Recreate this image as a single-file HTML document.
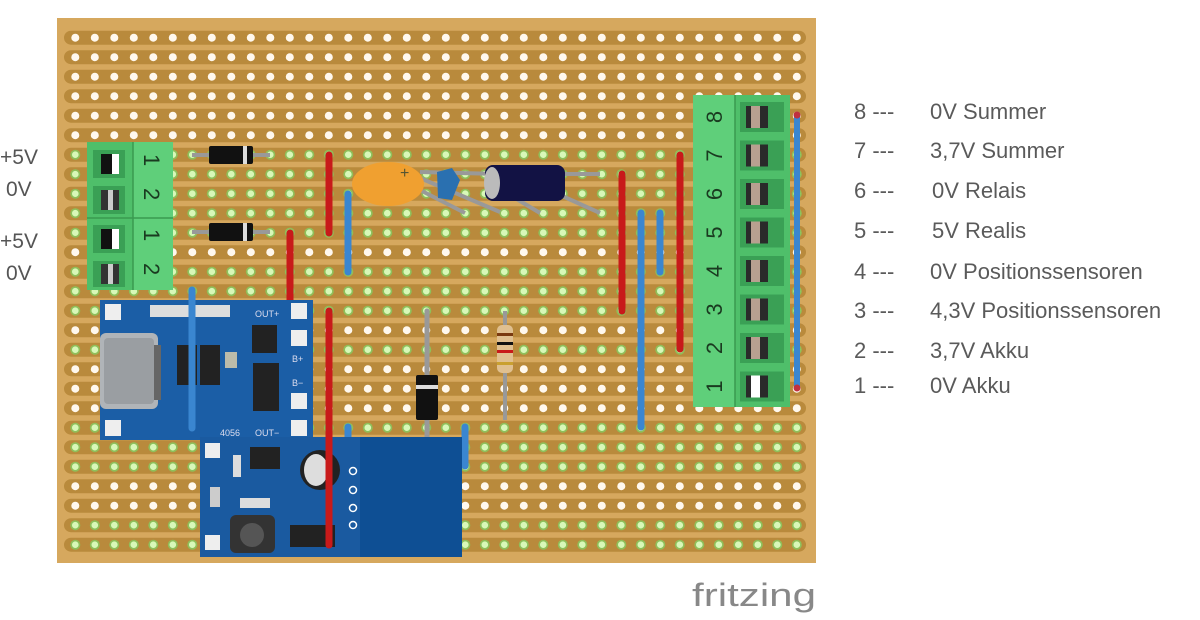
<!DOCTYPE html>
<html><head><meta charset="utf-8"><style>
html,body{margin:0;padding:0;background:#fff;width:1200px;height:620px;overflow:hidden}
svg{display:block}
text{font-family:"Liberation Sans",sans-serif}
</style></head><body>
<svg id="s" width="1200" height="620" viewBox="0 0 1200 620" xmlns="http://www.w3.org/2000/svg">
<rect x="57" y="18" width="759" height="545" fill="#d6a85e"/>
<g id="strips"></g>
<g id="holes"></g>

<!-- left terminal block -->
<g>
<rect x="87" y="142" width="86" height="148" fill="#5fcf7a"/>
<rect x="87" y="142" width="46" height="148" fill="#4fbf6a"/>
<line x1="133" y1="142" x2="133" y2="290" stroke="#3a9a50" stroke-width="1.5"/>
<line x1="87" y1="218" x2="173" y2="218" stroke="#3a9a50" stroke-width="1.5"/>
<rect x="93" y="150" width="32" height="28" fill="#3aa055"/><rect x="101" y="154" width="18" height="20" fill="#111"/><rect x="112" y="154" width="7" height="20" fill="#fff"/>
<rect x="93" y="186" width="32" height="28" fill="#3aa055"/><rect x="101" y="190" width="18" height="20" fill="#333"/><rect x="108" y="190" width="5" height="20" fill="#ccc"/>
<rect x="93" y="225" width="32" height="28" fill="#3aa055"/><rect x="101" y="229" width="18" height="20" fill="#111"/><rect x="112" y="229" width="7" height="20" fill="#fff"/>
<rect x="93" y="261" width="32" height="26" fill="#3aa055"/><rect x="101" y="264" width="18" height="20" fill="#333"/><rect x="108" y="264" width="5" height="20" fill="#ccc"/>
<g font-size="22" fill="#1a3a20">
<text transform="translate(144,154) rotate(90)">1</text>
<text transform="translate(144,188) rotate(90)">2</text>
<text transform="translate(144,229) rotate(90)">1</text>
<text transform="translate(144,263) rotate(90)">2</text>
</g>
</g>
<g font-size="21" fill="#555">
<text x="0" y="164">+5V</text><text x="6" y="196">0V</text>
<text x="0" y="248">+5V</text><text x="6" y="280">0V</text>
</g>

<!-- diodes -->
<g>
<line x1="192" y1="155" x2="270" y2="155" stroke="#999" stroke-width="4"/>
<rect x="209" y="146" width="44" height="18" rx="2" fill="#111"/><rect x="243" y="146" width="4" height="18" fill="#ddd"/>
<line x1="192" y1="232" x2="270" y2="232" stroke="#999" stroke-width="4"/>
<rect x="209" y="223" width="44" height="18" rx="2" fill="#111"/><rect x="243" y="223" width="4" height="18" fill="#ddd"/>
</g>

<!-- wires -->
<g stroke-linecap="round" stroke-width="7">
<line x1="329" y1="155" x2="329" y2="233" stroke="#c81a1a"/>
<line x1="348" y1="194" x2="348" y2="272" stroke="#3a86d0"/>
<line x1="290" y1="233" x2="290" y2="311" stroke="#c81a1a"/>
<line x1="622" y1="174" x2="622" y2="311" stroke="#c81a1a"/>
<line x1="641" y1="213" x2="641" y2="427" stroke="#3a86d0"/>
<line x1="660" y1="213" x2="660" y2="272" stroke="#3a86d0"/>
<line x1="680" y1="155" x2="680" y2="349" stroke="#c81a1a"/>
<line x1="348" y1="427" x2="348" y2="447" stroke="#3a86d0"/>
<line x1="465" y1="427" x2="465" y2="466" stroke="#3a86d0"/>
</g>

<!-- capacitors -->
<g>
<line x1="420" y1="178" x2="500" y2="212" stroke="#999" stroke-width="4"/>
<line x1="420" y1="190" x2="465" y2="213" stroke="#999" stroke-width="4"/>
<line x1="420" y1="172" x2="500" y2="174" stroke="#999" stroke-width="4"/>
<line x1="560" y1="174" x2="600" y2="174" stroke="#999" stroke-width="4"/>
<line x1="510" y1="195" x2="540" y2="213" stroke="#999" stroke-width="4"/>
<line x1="560" y1="195" x2="600" y2="213" stroke="#999" stroke-width="4"/>
<ellipse cx="388" cy="184" rx="36" ry="22" fill="#f0a030"/>
<text x="400" y="178" font-size="16" fill="#553">+</text>
<path d="M437 172 L452 168 L460 180 L452 200 L438 198 Z" fill="#2a70b0"/>
<rect x="485" y="165" width="80" height="36" rx="8" fill="#121244"/>
<ellipse cx="492" cy="183" rx="8" ry="16" fill="#bbb"/>
</g>

<!-- resistor -->
<g>
<line x1="505" y1="311" x2="505" y2="420" stroke="#999" stroke-width="4"/>
<rect x="497" y="325" width="16" height="48" rx="5" fill="#e0c090"/>
<rect x="497" y="333" width="16" height="3" fill="#7a3a10"/>
<rect x="497" y="342" width="16" height="3" fill="#111"/>
<rect x="497" y="350" width="16" height="3" fill="#c81a1a"/>
<rect x="497" y="362" width="16" height="3" fill="#c9a030"/>
</g>

<!-- gray wire with diode -->
<g>
<line x1="427" y1="311" x2="427" y2="525" stroke="#999" stroke-width="5" stroke-linecap="round"/>
<rect x="416" y="375" width="22" height="45" rx="2" fill="#111"/><rect x="416" y="385" width="22" height="4" fill="#ddd"/>
</g>

<!-- charger module -->
<g>
<rect x="100" y="300" width="213" height="140" fill="#1b5ea6"/>
<rect x="100" y="333" width="58" height="76" rx="6" fill="#b0b4b8"/>
<rect x="104" y="338" width="50" height="66" rx="4" fill="#9a9ea2"/>
<rect x="154" y="345" width="7" height="55" fill="#666"/>
<rect x="150" y="305" width="80" height="12" fill="#ddd"/>
<rect x="177" y="345" width="20" height="40" fill="#222"/>
<rect x="200" y="345" width="20" height="40" fill="#222"/>
<rect x="252" y="325" width="25" height="28" fill="#222"/>
<rect x="253" y="363" width="26" height="48" fill="#222"/>
<rect x="225" y="352" width="12" height="16" fill="#bba"/>
<g fill="#eee"><rect x="105" y="304" width="16" height="16"/><rect x="105" y="420" width="16" height="16"/>
<rect x="291" y="303" width="16" height="16"/><rect x="291" y="330" width="16" height="16"/><rect x="291" y="393" width="16" height="16"/><rect x="291" y="420" width="16" height="16"/></g>
<g font-size="9" fill="#dde"><text x="255" y="317">OUT+</text><text x="292" y="362">B+</text><text x="292" y="386">B−</text><text x="255" y="436">OUT−</text><text x="220" y="436">4056</text></g>
</g>
<line x1="192" y1="290" x2="192" y2="428" stroke="#3a86d0" stroke-width="7" stroke-linecap="round"/>

<!-- booster module -->
<g>
<rect x="200" y="437" width="262" height="120" fill="#0e4f94"/>
<rect x="200" y="437" width="160" height="120" fill="#1a5aa0"/>
<rect x="205" y="443" width="15" height="15" fill="#eee"/><rect x="205" y="535" width="15" height="15" fill="#eee"/>
<rect x="250" y="447" width="30" height="22" fill="#222"/>
<circle cx="320" cy="470" r="20" fill="#222"/><ellipse cx="316" cy="470" rx="12" ry="16" fill="#ddd"/>
<rect x="230" y="515" width="45" height="38" rx="6" fill="#333"/><circle cx="252" cy="535" r="12" fill="#555"/>
<rect x="240" y="498" width="30" height="10" fill="#ddd"/>
<rect x="290" y="525" width="45" height="22" fill="#222"/>
<rect x="210" y="487" width="10" height="20" fill="#ccc"/>
<rect x="233" y="455" width="8" height="22" fill="#ddd"/>
<g fill="none" stroke="#fff" stroke-width="1.5"><circle cx="353" cy="471" r="3.5"/><circle cx="353" cy="490" r="3.5"/><circle cx="353" cy="508" r="3.5"/><circle cx="353" cy="525" r="3.5"/></g>
</g>
<line x1="329" y1="311" x2="329" y2="545" stroke="#c81a1a" stroke-width="7" stroke-linecap="round"/>

<!-- right terminal -->
<g>
<rect x="693" y="95" width="97" height="312" fill="#5fcf7a"/>
<rect x="735" y="95" width="55" height="312" fill="#4fbf6a"/>
<line x1="735" y1="95" x2="735" y2="407" stroke="#3a9a50" stroke-width="1.5"/>
<g id="rt"></g>
</g>
<line x1="797" y1="115" x2="797" y2="388" stroke="#3a86d0" stroke-width="6" stroke-linecap="round"/>
<circle cx="797" cy="115" r="3.5" fill="#c03040"/><circle cx="797" cy="388" r="3.5" fill="#c03040"/>

<!-- legend -->
<g font-size="22" fill="#5a5a5a">
<text x="854" y="119">8 ---</text><text x="930" y="119">0V Summer</text>
<text x="854" y="158">7 ---</text><text x="930" y="158">3,7V Summer</text>
<text x="854" y="198">6 ---</text><text x="932" y="198">0V Relais</text>
<text x="854" y="238">5 ---</text><text x="932" y="238">5V Realis</text>
<text x="854" y="279">4 ---</text><text x="930" y="279">0V Positionssensoren</text>
<text x="854" y="318">3 ---</text><text x="930" y="318">4,3V Positionssensoren</text>
<text x="854" y="358">2 ---</text><text x="930" y="358">3,7V Akku</text>
<text x="854" y="393">1 ---</text><text x="930" y="393">0V Akku</text>
</g>
<text x="692" y="606" font-size="32" fill="#888" font-family="DejaVu Sans, sans-serif" textLength="124" lengthAdjust="spacingAndGlyphs">fritzing</text>
</svg>
<script>
var NS="http://www.w3.org/2000/svg";
function el(t,a,p){var e=document.createElementNS(NS,t);for(var k in a)e.setAttribute(k,a[k]);p.appendChild(e);return e;}
var st=document.getElementById("strips"),ho=document.getElementById("holes");
var white={0:1,1:1,2:1,3:1,4:1,5:1,11:1,15:1,17:1,18:1,19:1,23:1,24:1};
for(var j=0;j<27;j++){var y=37.7+19.5*j;
 el("rect",{x:64,y:y-7,width:742,height:14,rx:7,fill:"#b98a3c"},st);
 for(var i=0;i<38;i++){var x=75.3+19.5*i;
  if(white[j]){el("circle",{cx:x,cy:y,r:4,fill:"#fff8ee"},ho);}
  else{el("circle",{cx:x,cy:y,r:5,fill:"#8fbf5a"},ho);el("circle",{cx:x,cy:y,r:3.3,fill:"#d8f8b8"},ho);}
 }}
var rt=document.getElementById("rt");
for(var n=0;n<8;n++){var yy=98+n*38.5;
 el("rect",{x:740,y:yy+4,width:44,height:30,fill:"#3aa055"},rt);
 el("rect",{x:746,y:yy+8,width:22,height:22,fill:"#2a2a2a"},rt);
 el("rect",{x:751,y:yy+8,width:9,height:22,fill:n==7?"#fff":"#b8a090"},rt);
 var t=el("text",{transform:"translate(722,"+(yy+19)+") rotate(-90)","font-size":"22","text-anchor":"middle",fill:"#1a3a20"},rt);
 t.textContent=String(8-n);
}
</script>
</body></html>
